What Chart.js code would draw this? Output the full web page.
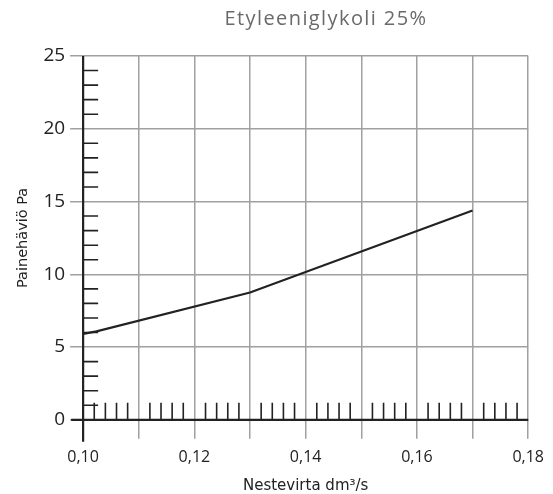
<!DOCTYPE html>
<html>
<head>
<meta charset="utf-8">
<script src="https://cdn.jsdelivr.net/npm/chart.js@4/dist/chart.umd.min.js"></script>
<style>
  html, body { margin: 0; padding: 0; background: #fff; }
  #wrap { width: 553px; height: 494px; }
</style>
</head>
<body>
<div id="wrap"><canvas id="dpChart"></canvas></div>
<script>
// flow (dm3/s) vs pressure drop (Pa)
const flow = [0.100, 0.1024, 0.130, 0.170];
const pressure = [5.9, 6.08, 8.75, 14.38];

const xMin = 0.10, xMax = 0.18, xStep = 0.01, xMinorStep = 0.002;
const yMin = 0, yMax = 25, yStep = 5, yMinorStep = 1;

const titleText = 'Etyleeniglykoli 25%';
const xTitle = 'Nestevirta dm\u00b3/s';
const yTitle = 'Painehäviö Pa';

const FONT = '"Open Sans", sans-serif';
const WIDE = '"DejaVu Sans", sans-serif';
const GRID = '#a0a0a0';
const INK = '#222';

// title sits a bit right of the plot centre in the original
const topTitle = {
    id: 'topTitle',
    afterDraw(chart) {
        const ctx = chart.ctx;
        ctx.save();
        ctx.font = '20px ' + FONT;
        ctx.letterSpacing = '1.4px';
        ctx.fillStyle = '#6a6a6a';
        ctx.textAlign = 'center';
        ctx.textBaseline = 'alphabetic';
        ctx.fillText(titleText, 326, 25);
        ctx.restore();
    }
};

// minor ticks drawn inside the plot, plus the dark axis lines
const minorTicks = {
    id: 'minorTicks',
    afterDatasetsDraw(chart) {
        const { ctx, chartArea: a, scales: { x, y } } = chart;
        ctx.save();
        ctx.strokeStyle = INK;
        ctx.lineWidth = 1.6;
        ctx.beginPath();
        for (let v = xMin + xMinorStep; v < xMax - 1e-9; v += xMinorStep) {
            const r = Math.round(v / xStep * 1000) / 1000;
            if (Math.abs(r - Math.round(r)) < 1e-6) continue;
            const px = x.getPixelForValue(v);
            ctx.moveTo(px, a.bottom);
            ctx.lineTo(px, a.bottom - 17);
        }
        for (let v = yMin + yMinorStep; v < yMax; v += yMinorStep) {
            if (v % yStep === 0) continue;
            const py = y.getPixelForValue(v);
            ctx.moveTo(a.left, py);
            ctx.lineTo(a.left + 15, py);
        }
        ctx.stroke();

        ctx.lineWidth = 2.2;
        ctx.beginPath();
        ctx.moveTo(a.left, a.top);
        ctx.lineTo(a.left, a.bottom + 22);
        ctx.moveTo(a.left - 12, a.bottom);
        ctx.lineTo(a.right, a.bottom);
        ctx.stroke();
        ctx.restore();
    }
};

new Chart(document.getElementById('dpChart'), {
    type: 'scatter',
    data: {
        datasets: [{
            data: flow.map((f, i) => ({ x: f, y: pressure[i] })),
            showLine: true,
            borderColor: INK,
            borderWidth: 2.2,
            pointRadius: 0,
            tension: 0
        }]
    },
    options: {
        responsive: true,
        maintainAspectRatio: false,
        animation: false,
        layout: { padding: { top: 56, right: 22, left: 15, bottom: 0 } },
        plugins: {
            legend: { display: false },
            tooltip: { enabled: false },
            title: { display: false }
        },
        scales: {
            x: {
                type: 'linear',
                min: xMin,
                max: xMax,
                border: { display: false },
                grid: { color: GRID, lineWidth: 1.5, tickLength: 19, tickColor: GRID },
                ticks: {
                    stepSize: xStep,
                    color: INK,
                    font: { family: FONT, size: 16 },
                    padding: 9,
                    maxRotation: 0,
                    autoSkip: false,
                    callback: function(v) {
                        const k = Math.round(v * 100);
                        return k % 2 === 0 ? (k / 100).toFixed(2).replace('.', ',') : '';
                    }
                },
                title: {
                    display: true,
                    text: xTitle,
                    color: INK,
                    font: { family: WIDE, size: 15, lineHeight: 1 },
                    padding: { top: 3, bottom: 0 }
                }
            },
            y: {
                min: yMin,
                max: yMax,
                border: { display: false },
                grid: { color: GRID, lineWidth: 1.5, tickLength: 13, tickColor: GRID },
                ticks: {
                    stepSize: yStep,
                    color: INK,
                    font: { family: FONT, size: 19 },
                    padding: 5
                },
                title: {
                    display: true,
                    text: yTitle,
                    color: INK,
                    font: { family: WIDE, size: 14.5 },
                    padding: { top: 0, bottom: 6 }
                }
            }
        }
    },
    plugins: [minorTicks, topTitle]
});
</script>
</body>
</html>
